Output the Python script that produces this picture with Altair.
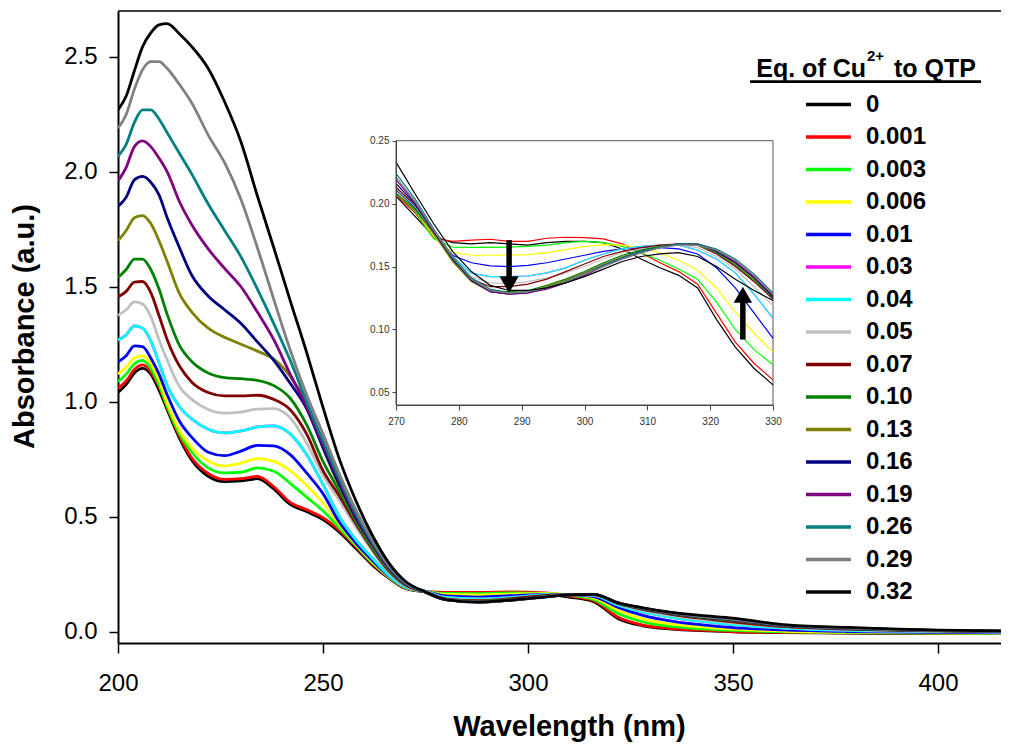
import altair as alt
import pandas as pd

FONT = "Liberation Sans"

SERIES = ["0", "0.001", "0.003", "0.006", "0.01", "0.03", "0.04", "0.05",
          "0.07", "0.10", "0.13", "0.16", "0.19", "0.26", "0.29", "0.32"]
COLORS = ["#000000", "#FF0000", "#00FF00", "#FFFF00", "#0000FF", "#FF00FF",
          "#00FFFF", "#C0C0C0", "#800000", "#008000", "#808000", "#000080",
          "#800080", "#008080", "#808080", "#000000"]

# ---- main spectra (wavelength grid + absorbance per series) ----
WL_MAIN = [200, 202, 204, 206, 208, 210, 212, 215, 218, 222, 226, 230, 234, 238,
           242, 246, 250, 254, 258, 262, 266, 270, 275, 280, 288, 296, 304, 310,
           316, 322, 328, 335, 342, 350, 362, 378, 400, 420]
M_0 = [1.04, 1.075, 1.125, 1.145, 1.12, 1.05, 0.965, 0.84, 0.745, 0.675, 0.652, 0.655, 0.665, 0.62,
       0.553, 0.522, 0.487, 0.432, 0.362, 0.29, 0.233, 0.188, 0.172, 0.168, 0.168, 0.17, 0.163, 0.15,
       0.13, 0.056, 0.025, 0.011, 0.004, -0.001, -0.005, -0.007, -0.009, -0.009]
M_0001 = [1.058, 1.09, 1.14, 1.16, 1.13, 1.065, 0.975, 0.85, 0.755, 0.688, 0.662, 0.665, 0.675, 0.63,
          0.562, 0.53, 0.495, 0.44, 0.37, 0.295, 0.236, 0.19, 0.175, 0.17, 0.17, 0.172, 0.168, 0.155,
          0.135, 0.062, 0.028, 0.013, 0.006, 0.0, -0.004, -0.006, -0.008, -0.008]
M_0003 = [1.087, 1.12, 1.165, 1.18, 1.145, 1.075, 0.98, 0.86, 0.78, 0.712, 0.69, 0.693, 0.712, 0.697,
          0.645, 0.585, 0.525, 0.45, 0.375, 0.30, 0.238, 0.192, 0.174, 0.166, 0.165, 0.168, 0.166, 0.158,
          0.14, 0.078, 0.042, 0.022, 0.012, 0.005, -0.001, -0.005, -0.007, -0.008]
M_0006 = [1.12, 1.15, 1.19, 1.20, 1.165, 1.095, 0.995, 0.875, 0.80, 0.742, 0.72, 0.733, 0.752, 0.74,
          0.70, 0.635, 0.56, 0.465, 0.38, 0.305, 0.24, 0.194, 0.174, 0.161, 0.159, 0.163, 0.165, 0.16,
          0.146, 0.092, 0.055, 0.032, 0.02, 0.01, 0.002, -0.003, -0.006, -0.007]
M_001 = [1.173, 1.20, 1.243, 1.24, 1.19, 1.12, 1.03, 0.915, 0.845, 0.78, 0.765, 0.785, 0.81, 0.808,
         0.77, 0.69, 0.60, 0.475, 0.385, 0.31, 0.242, 0.196, 0.175, 0.155, 0.15, 0.156, 0.162, 0.161,
         0.152, 0.105, 0.07, 0.045, 0.03, 0.017, 0.007, 0.0, -0.004, -0.006]
M_003 = [1.268, 1.29, 1.33, 1.32, 1.265, 1.17, 1.07, 0.978, 0.925, 0.88, 0.864, 0.873, 0.89, 0.895,
         0.86, 0.77, 0.64, 0.50, 0.40, 0.32, 0.245, 0.195, 0.175, 0.148, 0.142, 0.148, 0.16, 0.162,
         0.157, 0.115, 0.085, 0.062, 0.045, 0.03, 0.015, 0.005, 0.0, -0.003]
M_004 = [1.268, 1.29, 1.33, 1.32, 1.265, 1.17, 1.07, 0.978, 0.925, 0.88, 0.864, 0.873, 0.89, 0.895,
         0.86, 0.77, 0.64, 0.50, 0.40, 0.32, 0.245, 0.195, 0.175, 0.148, 0.142, 0.148, 0.16, 0.162,
         0.157, 0.115, 0.085, 0.062, 0.045, 0.03, 0.015, 0.005, 0.0, -0.003]
M_005 = [1.376, 1.40, 1.434, 1.425, 1.37, 1.27, 1.18, 1.065, 1.01, 0.966, 0.95, 0.955, 0.968, 0.97,
         0.93, 0.82, 0.68, 0.57, 0.455, 0.35, 0.26, 0.20, 0.172, 0.143, 0.136, 0.143, 0.155, 0.161,
         0.16, 0.12, 0.092, 0.07, 0.053, 0.038, 0.02, 0.008, 0.002, -0.002]
M_007 = [1.455, 1.48, 1.52, 1.523, 1.475, 1.375, 1.27, 1.155, 1.085, 1.04, 1.025, 1.025, 1.028, 1.01,
         0.965, 0.86, 0.70, 0.59, 0.47, 0.36, 0.265, 0.203, 0.172, 0.141, 0.134, 0.143, 0.156, 0.161,
         0.161, 0.122, 0.096, 0.075, 0.058, 0.042, 0.022, 0.01, 0.003, -0.001]
M_010 = [1.54, 1.575, 1.62, 1.62, 1.575, 1.49, 1.38, 1.245, 1.175, 1.125, 1.105, 1.10, 1.093, 1.07,
         1.015, 0.90, 0.74, 0.61, 0.48, 0.365, 0.27, 0.205, 0.171, 0.139, 0.131, 0.139, 0.152, 0.16,
         0.162, 0.123, 0.099, 0.078, 0.062, 0.048, 0.025, 0.012, 0.004, 0.0]
M_013 = [1.70, 1.745, 1.80, 1.81, 1.775, 1.70, 1.61, 1.47, 1.39, 1.32, 1.28, 1.25, 1.22, 1.185,
         1.11, 0.99, 0.80, 0.63, 0.49, 0.375, 0.273, 0.206, 0.171, 0.139, 0.13, 0.138, 0.151, 0.16,
         0.162, 0.124, 0.1, 0.079, 0.063, 0.05, 0.026, 0.013, 0.004, 0.0]
M_016 = [1.85, 1.89, 1.965, 1.98, 1.955, 1.90, 1.80, 1.67, 1.55, 1.46, 1.40, 1.34, 1.26, 1.18,
         1.08, 0.97, 0.80, 0.64, 0.495, 0.38, 0.277, 0.208, 0.171, 0.139, 0.129, 0.137, 0.151, 0.16,
         0.162, 0.124, 0.1, 0.079, 0.064, 0.051, 0.026, 0.013, 0.004, 0.0]
M_019 = [1.96, 2.02, 2.11, 2.135, 2.11, 2.06, 2.00, 1.87, 1.77, 1.665, 1.58, 1.50, 1.39, 1.27,
         1.12, 0.98, 0.815, 0.655, 0.505, 0.385, 0.28, 0.21, 0.171, 0.139, 0.128, 0.137, 0.151, 0.16,
         0.162, 0.124, 0.101, 0.08, 0.065, 0.052, 0.027, 0.014, 0.005, 0.001]
M_026 = [2.067, 2.12, 2.215, 2.27, 2.27, 2.23, 2.17, 2.08, 1.99, 1.86, 1.745, 1.63, 1.49, 1.34,
         1.18, 1.00, 0.83, 0.665, 0.515, 0.39, 0.285, 0.213, 0.172, 0.139, 0.129, 0.137, 0.151, 0.161,
         0.162, 0.125, 0.102, 0.081, 0.066, 0.053, 0.028, 0.015, 0.005, 0.001]
M_029 = [2.19, 2.25, 2.36, 2.445, 2.48, 2.48, 2.45, 2.38, 2.30, 2.16, 2.04, 1.88, 1.67, 1.445,
         1.225, 1.03, 0.86, 0.685, 0.53, 0.40, 0.29, 0.216, 0.172, 0.139, 0.129, 0.137, 0.151, 0.161,
         0.162, 0.125, 0.102, 0.082, 0.067, 0.055, 0.029, 0.016, 0.005, 0.001]
M_032 = [2.27, 2.33, 2.44, 2.545, 2.605, 2.64, 2.645, 2.60, 2.545, 2.45, 2.305, 2.13, 1.895, 1.67,
         1.44, 1.215, 0.975, 0.75, 0.57, 0.42, 0.30, 0.22, 0.172, 0.139, 0.128, 0.137, 0.15, 0.16,
         0.162, 0.125, 0.103, 0.083, 0.07, 0.058, 0.03, 0.018, 0.006, 0.002]

# ---- inset spectra (270-330 nm) ----
WL_INSET = [270, 273, 276, 279, 282, 285, 288, 291, 294, 297, 300, 303, 306, 309, 312, 315, 318,
            321, 324, 327, 330]
I_0 = [0.206, 0.19, 0.174, 0.169, 0.168, 0.169, 0.168, 0.167, 0.169, 0.170, 0.170, 0.169, 0.164,
       0.156, 0.149, 0.143, 0.133, 0.108, 0.086, 0.069, 0.056]
I_0001 = [0.207, 0.193, 0.1725, 0.170, 0.171, 0.1717, 0.170, 0.170, 0.1725, 0.1733, 0.173, 0.172,
          0.168, 0.161, 0.153, 0.146, 0.136, 0.113, 0.090, 0.073, 0.060]
I_0003 = [0.209, 0.194, 0.172, 0.1655, 0.1653, 0.1653, 0.1655, 0.166, 0.167, 0.169, 0.170, 0.169,
          0.166, 0.161, 0.155, 0.148, 0.140, 0.122, 0.100, 0.084, 0.072]
I_0006 = [0.21, 0.196, 0.174, 0.161, 0.159, 0.159, 0.159, 0.1595, 0.161, 0.1635, 0.166, 0.1675,
          0.167, 0.165, 0.161, 0.155, 0.147, 0.133, 0.114, 0.097, 0.082]
I_001 = [0.211, 0.197, 0.176, 0.159, 0.153, 0.1505, 0.150, 0.151, 0.153, 0.156, 0.159, 0.162,
         0.164, 0.165, 0.165, 0.164, 0.160, 0.149, 0.133, 0.113, 0.093]
I_003 = [0.212, 0.198, 0.178, 0.158, 0.1447, 0.142, 0.142, 0.1425, 0.145, 0.149, 0.155, 0.160,
         0.164, 0.166, 0.167, 0.167, 0.163, 0.156, 0.145, 0.128, 0.109]
I_004 = [0.212, 0.198, 0.178, 0.158, 0.1447, 0.142, 0.142, 0.1425, 0.145, 0.149, 0.155, 0.160,
         0.164, 0.166, 0.167, 0.167, 0.163, 0.156, 0.145, 0.128, 0.109]
I_005 = [0.212, 0.199, 0.179, 0.157, 0.142, 0.137, 0.1365, 0.138, 0.141, 0.145, 0.150, 0.156,
         0.161, 0.164, 0.166, 0.167, 0.165, 0.158, 0.148, 0.134, 0.119]
I_007 = [0.213, 0.199, 0.179, 0.156, 0.140, 0.134, 0.134, 0.136, 0.140, 0.146, 0.152, 0.158,
         0.162, 0.165, 0.167, 0.168, 0.167, 0.160, 0.150, 0.138, 0.124]
I_010 = [0.208, 0.196, 0.177, 0.155, 0.139, 0.131, 0.130, 0.131, 0.135, 0.140, 0.146, 0.153,
         0.159, 0.163, 0.166, 0.168, 0.167, 0.161, 0.151, 0.139, 0.125]
I_013 = [0.207, 0.195, 0.176, 0.154, 0.138, 0.130, 0.129, 0.130, 0.134, 0.139, 0.145, 0.152,
         0.158, 0.162, 0.165, 0.168, 0.167, 0.162, 0.152, 0.140, 0.126]
I_016 = [0.216, 0.200, 0.178, 0.156, 0.139, 0.130, 0.128, 0.129, 0.133, 0.138, 0.144, 0.151,
         0.157, 0.162, 0.165, 0.168, 0.168, 0.162, 0.153, 0.141, 0.126]
I_019 = [0.219, 0.201, 0.178, 0.157, 0.140, 0.130, 0.128, 0.129, 0.132, 0.137, 0.143, 0.150,
         0.156, 0.161, 0.165, 0.168, 0.168, 0.163, 0.154, 0.142, 0.127]
I_026 = [0.224, 0.204, 0.180, 0.158, 0.141, 0.132, 0.129, 0.130, 0.133, 0.138, 0.144, 0.151,
         0.157, 0.162, 0.165, 0.168, 0.168, 0.164, 0.156, 0.144, 0.129]
I_029 = [0.221, 0.202, 0.179, 0.157, 0.140, 0.131, 0.129, 0.130, 0.133, 0.138, 0.144, 0.150,
         0.156, 0.161, 0.165, 0.167, 0.167, 0.163, 0.155, 0.143, 0.128]
I_032 = [0.233, 0.208, 0.184, 0.162, 0.146, 0.135, 0.131, 0.131, 0.133, 0.137, 0.142, 0.148,
         0.154, 0.158, 0.160, 0.161, 0.158, 0.150, 0.140, 0.131, 0.123]

# arrows in the inset (wavelength, start absorbance, tip absorbance)
ARROW_DOWN = [288.0, 0.171, 0.129]
ARROW_UP = [325.2, 0.092, 0.134]

MAIN_X_DOMAIN = [200, 415.37]
MAIN_Y_DOMAIN = [-0.05, 2.7]
MAIN_X_TICKS = [200, 250, 300, 350, 400]
MAIN_Y_TICKS = [0.0, 0.5, 1.0, 1.5, 2.0, 2.5]
INSET_X_DOMAIN = [270, 330]
INSET_Y_DOMAIN = [0.04, 0.25]
INSET_X_TICKS = [270, 280, 290, 300, 310, 320, 330]
INSET_Y_TICKS = [0.05, 0.10, 0.15, 0.20, 0.25]

MAIN_LISTS = [M_0, M_0001, M_0003, M_0006, M_001, M_003, M_004, M_005, M_007, M_010,
              M_013, M_016, M_019, M_026, M_029, M_032]
INSET_LISTS = [I_0, I_0001, I_0003, I_0006, I_001, I_003, I_004, I_005, I_007, I_010,
               I_013, I_016, I_019, I_026, I_029, I_032]

rows = []
for s, vals in zip(SERIES, MAIN_LISTS):
    assert len(vals) == len(WL_MAIN), s
    for w, a in zip(WL_MAIN, vals):
        rows.append({"wl": w, "abs": a, "series": s})
main_df = pd.DataFrame(rows)

rows = []
for s, vals in zip(SERIES, INSET_LISTS):
    assert len(vals) == len(WL_INSET), s
    for w, a in zip(WL_INSET, vals):
        rows.append({"wl": w, "abs": a, "series": s})
inset_df = pd.DataFrame(rows)

# ---- layout (pixels) ----
PLOT_W, PLOT_H = 883, 632
INSET_LEFT, INSET_RIGHT = 278, 655
INSET_TOP, INSET_BOTTOM = 129.7, 394

color = alt.Color(
    "series:N",
    scale=alt.Scale(domain=SERIES, range=COLORS),
    legend=alt.Legend(
        orient="none", legendX=686, legendY=77.5, title=None,
        symbolType="stroke", symbolSize=2025, symbolStrokeWidth=3.5,
        labelFont=FONT, labelFontSize=24, labelFontWeight="bold", labelColor="black",
        labelOffset=13, clipHeight=32, rowPadding=0.5, padding=0, symbolOffset=0,
        labelLimit=300,
    ),
)

main_x = alt.X(
    "wl:Q",
    scale=alt.Scale(domain=MAIN_X_DOMAIN, nice=False, zero=False),
    axis=alt.Axis(
        values=MAIN_X_TICKS, format="d", title="Wavelength (nm)", grid=False,
        titleFont=FONT, titleFontSize=29, titleFontWeight="bold", titleColor="black",
        titleX=451, titleY=92, titleBaseline="alphabetic", titleAlign="center",
        labelFont=FONT, labelFontSize=24, labelColor="black", labelPadding=18,
        labelFlush=False, labelOverlap=False,
        tickSize=10, tickWidth=1.5, tickColor="black", domainWidth=2, domainColor="black",
    ),
)
main_y = alt.Y(
    "abs:Q",
    scale=alt.Scale(domain=MAIN_Y_DOMAIN, nice=False, zero=False),
    axis=alt.Axis(
        values=MAIN_Y_TICKS, format=".1f", title="Absorbance (a.u.)", grid=False,
        titleFont=FONT, titleFontSize=29, titleFontWeight="bold", titleColor="black",
        titleX=-85, titleY=315, titleBaseline="alphabetic", titleAlign="center", titleAngle=270,
        labelFont=FONT, labelFontSize=24, labelColor="black", labelPadding=12,
        labelFlush=False, labelOverlap=False,
        tickSize=9, tickWidth=1.5, tickColor="black", domainWidth=2, domainColor="black",
    ),
)

main_lines = alt.Chart(main_df).mark_line(
    strokeWidth=2.8, interpolate="monotone", clip=True, strokeJoin="round"
).encode(x=main_x, y=main_y, color=color)

one = pd.DataFrame({"k": [0]})
top_border = alt.Chart(one).mark_rule(color="black", strokeWidth=1.5).encode(
    x=alt.value(0), x2=alt.value(PLOT_W), y=alt.value(0)
)
title_a = alt.Chart(one).mark_text(
    text="Eq. of Cu", font=FONT, fontSize=25, fontWeight="bold", align="right",
    baseline="alphabetic", color="black"
).encode(x=alt.value(748), y=alt.value(65.7))
title_b = alt.Chart(one).mark_text(
    text="2+", font=FONT, fontSize=15, fontWeight="bold", align="left",
    baseline="alphabetic", color="black"
).encode(x=alt.value(749), y=alt.value(50))
title_c = alt.Chart(one).mark_text(
    text="to QTP", font=FONT, fontSize=25, fontWeight="bold", align="left",
    baseline="alphabetic", color="black"
).encode(x=alt.value(776), y=alt.value(65.7))
underline = alt.Chart(one).mark_rule(color="black", strokeWidth=2.7).encode(
    x=alt.value(632), x2=alt.value(863), y=alt.value(70.7)
)

main_layer = alt.layer(main_lines, top_border, title_a, title_b, title_c, underline)

# ---- inset ----
inset_axis_common = dict(
    grid=False, title=None, labelFont=FONT, labelFontSize=10, labelColor="#333333",
    domainColor="#444444", tickColor="#444444", domainWidth=1, tickWidth=1,
    labelFlush=False, labelOverlap=False, zindex=1,
)
inset_x = alt.X(
    "wl:Q",
    scale=alt.Scale(domain=INSET_X_DOMAIN, range=[INSET_LEFT, INSET_RIGHT], nice=False, zero=False),
    axis=alt.Axis(orient="bottom", offset=-(PLOT_H - INSET_BOTTOM), values=INSET_X_TICKS,
                  format="d", tickSize=5, labelPadding=6, **inset_axis_common),
)
inset_y = alt.Y(
    "abs:Q",
    scale=alt.Scale(domain=INSET_Y_DOMAIN, range=[INSET_BOTTOM, INSET_TOP], nice=False, zero=False),
    axis=alt.Axis(orient="left", offset=-INSET_LEFT, values=INSET_Y_TICKS,
                  format=".2f", tickSize=4, labelPadding=3, **inset_axis_common),
)

frame_df = pd.DataFrame({"wl": [INSET_X_DOMAIN[0]], "wl2": [INSET_X_DOMAIN[1]],
                         "abs": [INSET_Y_DOMAIN[0]], "abs2": [INSET_Y_DOMAIN[1]]})
frame = alt.Chart(frame_df).mark_rect(
    fill="white", fillOpacity=1, stroke="#555555", strokeWidth=1
).encode(x=inset_x, x2="wl2:Q", y=inset_y, y2="abs2:Q")

inset_lines = alt.Chart(inset_df).mark_line(strokeWidth=1.2).encode(
    x=inset_x, y=inset_y, color=color
)

down_df = pd.DataFrame({"wl": [ARROW_DOWN[0]], "abs": [ARROW_DOWN[1]], "abs2": [ARROW_DOWN[2]]})
up_df = pd.DataFrame({"wl": [ARROW_UP[0]], "abs": [ARROW_UP[1]], "abs2": [ARROW_UP[2]]})
down_tip = pd.DataFrame({"wl": [ARROW_DOWN[0]], "abs": [ARROW_DOWN[2]]})
up_tip = pd.DataFrame({"wl": [ARROW_UP[0]], "abs": [ARROW_UP[2]]})

down_shaft = alt.Chart(down_df).mark_rule(color="black", strokeWidth=5.5, y2Offset=-12).encode(
    x=inset_x, y=inset_y, y2="abs2:Q")
up_shaft = alt.Chart(up_df).mark_rule(color="black", strokeWidth=5.5, y2Offset=12).encode(
    x=inset_x, y=inset_y, y2="abs2:Q")
down_head = alt.Chart(down_tip).mark_point(
    shape="triangle-down", size=370, filled=True, color="black", opacity=1, yOffset=-8.3
).encode(x=inset_x, y=inset_y)
up_head = alt.Chart(up_tip).mark_point(
    shape="triangle-up", size=340, filled=True, color="black", opacity=1, yOffset=8
).encode(x=inset_x, y=inset_y)

inset_layer = alt.layer(frame, inset_lines, down_shaft, up_shaft, down_head, up_head)

chart = (
    alt.layer(main_layer, inset_layer)
    .resolve_scale(x="independent", y="independent")
    .properties(
        width=PLOT_W, height=PLOT_H,
        padding={"left": 110, "top": 3, "right": 0, "bottom": 99},
        autosize=alt.AutoSizeParams(type="none"),
    )
    .configure(font=FONT)
    .configure_view(strokeWidth=0)
)

chart.save("out.html", embed_options={"renderer": "svg", "actions": False})
